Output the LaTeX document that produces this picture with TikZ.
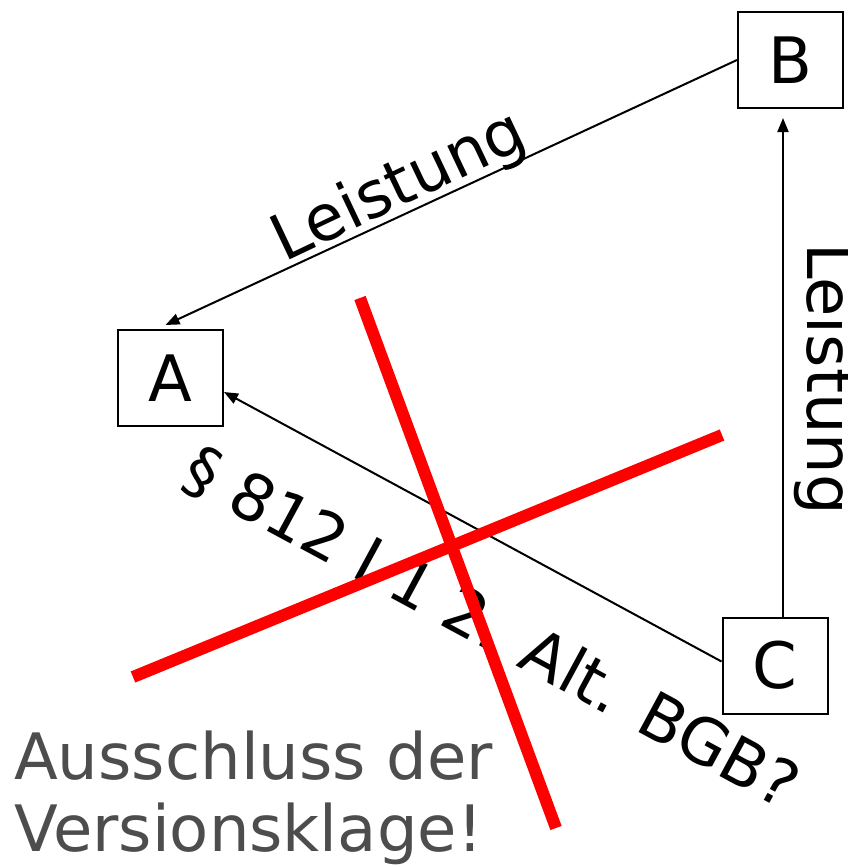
\documentclass[tikz,border=0pt]{standalone}
\usepackage{fontspec}
\setmainfont{DejaVu Sans}
\usetikzlibrary{arrows.meta}
\definecolor{crossred}{RGB}{255,0,0}
\definecolor{notegray}{RGB}{77,77,77}

\begin{document}
\begin{tikzpicture}[x=1pt, y=-1pt, >={Triangle[length=14pt, width=11pt]},
    party/.style={draw, line width=2pt, minimum width=105pt, minimum height=96pt,
        inner sep=0pt, font=\fontsize{64}{72}\selectfont},
    lbl/.style={inner sep=0pt, font=\fontsize{64}{72}\selectfont},
    conn/.style={->, line width=2pt}]
    \useasboundingbox (0,0) rectangle (848,867);

    % 1. Beteiligte
    \node[party] (A) at (170.5,378) {A};
    \node[party] (B) at (790.5,60) {B};
    \node[party] (C) at (775,665.5) {C};

    % 2. Leistungsbeziehungen
    \draw[conn] (B.west) -- ([xshift=-5pt, yshift=4pt]A.north);
    \draw[conn, shorten >=9pt] ([xshift=8pt]C.north) -- ([xshift=8pt]C.north |- B.south);
    \draw[conn] ([yshift=4pt]C.west) -- ([yshift=-14pt]A.east);

    % 3. Beschriftungen
    \node[lbl, rotate=25.35] (leistungBA) at (400,188) {Leistung};
    \node[lbl, rotate=-90] (leistungCB) at (825,379) {Leistung};
    \node[lbl, rotate=-28.4] (norm) at (491,628) {§ 812 I 1 2. Alt. BGB?};

    % 4. Durchgestrichen
    \draw[crossred, line width=12pt] (360,298) -- (556,828);
    \draw[crossred, line width=12pt] (133,677) -- (722,435);

    % 5. Ergebnis
    \node[lbl, text=notegray, align=left, anchor=north west] (note) at (14,731)
        {Ausschluss der\\Versionsklage!};
\end{tikzpicture}
\end{document}
